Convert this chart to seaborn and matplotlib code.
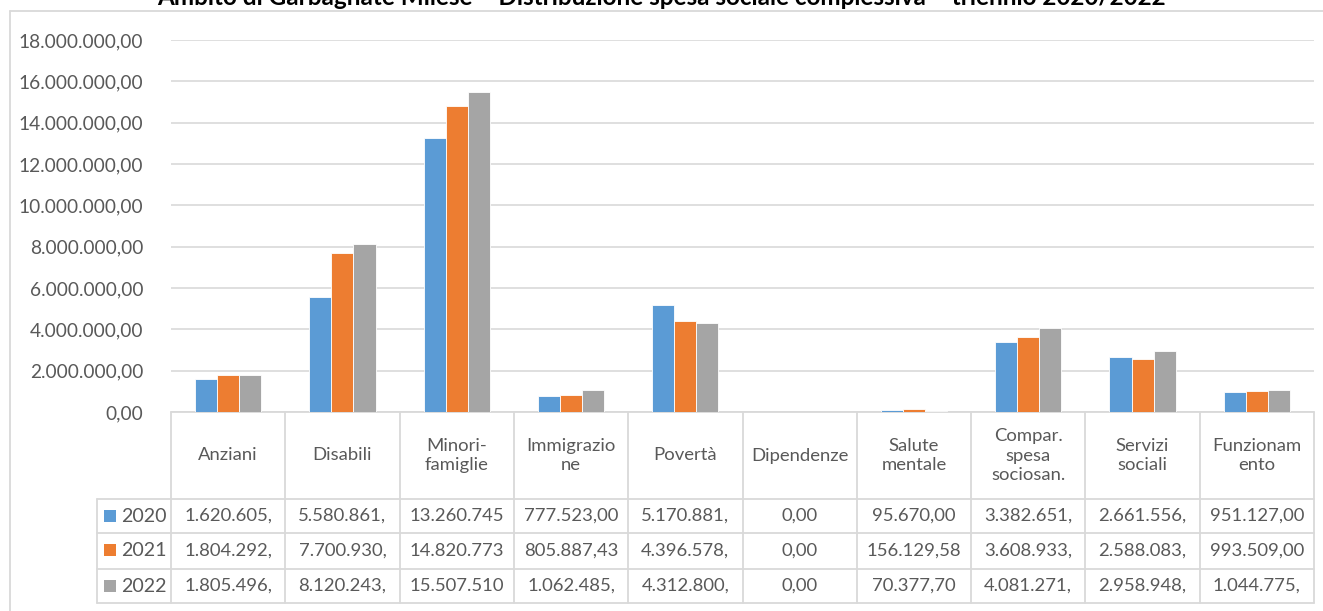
"""
Spesa sociale complessiva per area - bar chart with Excel-style data table
"""

import numpy as np
import pandas as pd
import matplotlib
matplotlib.use("Agg")
import matplotlib.pyplot as plt
import matplotlib.transforms as mtransforms
from matplotlib.patches import Rectangle
from matplotlib.lines import Line2D
from matplotlib.ticker import FuncFormatter
import seaborn as sns

# --- data -------------------------------------------------------------
categories = ['Anziani', 'Disabili', 'Minori-famiglie', 'Immigrazione', 'Povertà',
              'Dipendenze', 'Salute mentale', 'Compar. spesa sociosan.',
              'Servizi sociali', 'Funzionamento']
header_labels = ['Anziani', 'Disabili', 'Minori-\nfamiglie', 'Immigrazio\nne', 'Povertà',
                 'Dipendenze', 'Salute\nmentale', 'Compar.\nspesa\nsociosan.',
                 'Servizi\nsociali', 'Funzionam\nento']
years = ['2020', '2021', '2022']
spesa_2020 = [1620605.00, 5580861.00, 13260745.00, 777523.00, 5170881.00,
              0.00, 95670.00, 3382651.00, 2661556.00, 951127.00]
spesa_2021 = [1804292.00, 7700930.00, 14820773.00, 805887.43, 4396578.00,
              0.00, 156129.58, 3608933.00, 2588083.00, 993509.00]
spesa_2022 = [1805496.00, 8120243.00, 15507510.00, 1062485.00, 4312800.00,
              0.00, 70377.70, 4081271.00, 2958948.00, 1044775.00]
yticks = [0, 2e6, 4e6, 6e6, 8e6, 10e6, 12e6, 14e6, 16e6, 18e6]
colors = ['#5B9BD5', '#ED7D31', '#A5A5A5']

title = 'Ambito di Garbagnate Milese \u2013 Distribuzione spesa sociale complessiva \u2013 triennio 2020/2022'

series = [spesa_2020, spesa_2021, spesa_2022]
df = pd.DataFrame({
    'categoria': np.tile(categories, len(years)),
    'anno': np.repeat(years, len(categories)),
    'spesa': np.concatenate(series),
})


def it_fmt(v):
    s = f"{v:,.2f}"
    return s.replace(',', 'X').replace('.', ',').replace('X', '.')


# --- style --------------------------------------------------------------
sns.set_theme(style='white')
plt.rcParams['font.family'] = ['Lato', 'DejaVu Sans']
TXT = '#595959'
GRID = '#D9D9D9'
FS = 13.8
FS_CELL = 13.3

W, H = 1323, 611
fig = plt.figure(figsize=(W / 100, H / 100), dpi=100)
left_px, right_px, top_px, bottom_px = 171, 1314, 40, 412
ax = fig.add_axes([left_px / W, 1 - bottom_px / H,
                   (right_px - left_px) / W, (bottom_px - top_px) / H])

sns.barplot(data=df, x='categoria', y='spesa', hue='anno', palette=colors,
            saturation=1, width=0.58, edgecolor='white', linewidth=0.6, ax=ax,
            legend=False, zorder=3)

ax.set_xlim(-0.5, len(categories) - 0.5)
ax.set_ylim(0, 18e6)
ax.set_yticks(yticks)
ax.yaxis.set_major_formatter(FuncFormatter(lambda v, p: it_fmt(v)))
ax.tick_params(axis='y', length=0, pad=20, labelsize=FS, labelcolor=TXT)
ax.set_xticks([])
ax.set_xlabel('')
ax.set_ylabel('')
for s in ax.spines.values():
    s.set_visible(False)
ax.grid(axis='y', color=GRID, linewidth=1.2, zorder=0)
ax.set_axisbelow(True)

# --- data table below the axis (x in data coords, y in axes coords) -----
trans = mtransforms.blended_transform_factory(ax.transData, ax.transAxes)
plot_h = bottom_px - top_px


def ay(ypx):
    return (bottom_px - ypx) / plot_h


row_edges = [412, 499, 533, 569, 603]
legend_left = -0.5 - (left_px - 97) / ((right_px - left_px) / len(categories))
line_kw = dict(color=GRID, linewidth=1.3, transform=trans, clip_on=False, zorder=1)

# horizontal lines
ax.add_line(Line2D([-0.5, len(categories) - 0.5], [ay(row_edges[0])] * 2, **line_kw))
for yp in row_edges[1:]:
    ax.add_line(Line2D([legend_left, len(categories) - 0.5], [ay(yp)] * 2, **line_kw))
# vertical lines
for i in range(len(categories) + 1):
    ax.add_line(Line2D([i - 0.5, i - 0.5], [ay(row_edges[0]), ay(row_edges[-1])], **line_kw))
ax.add_line(Line2D([legend_left, legend_left], [ay(row_edges[1]), ay(row_edges[-1])], **line_kw))

# header text
for i, lab in enumerate(header_labels):
    ax.text(i, ay((row_edges[0] + row_edges[1]) / 2), lab, transform=trans,
            ha='center', va='center', fontsize=FS_CELL, color=TXT,
            linespacing=1.3, clip_on=False)

# rows
for r, (yr, vals, col) in enumerate(zip(years, series, colors)):
    yc = ay((row_edges[r + 1] + row_edges[r + 2]) / 2)
    for i, v in enumerate(vals):
        ax.text(i, yc, it_fmt(v)[:10], transform=trans, ha='center', va='center',
                fontsize=FS_CELL, color=TXT, clip_on=False)
    fig.patches.append(Rectangle((104 / W, 1 - (row_edges[r + 1] + 23) / H), 12 / W, 12 / H,
                                 transform=fig.transFigure, facecolor=col,
                                 edgecolor='none'))
    fig.text(121 / W, 1 - (row_edges[r + 1] + row_edges[r + 2]) / 2 / H, yr,
             ha='left', va='center', fontsize=FS + 0.3, color=TXT)

# chart frame (left and top edges visible)
fig.add_artist(Line2D([10 / W, 10 / W], [0, 1 - 11 / H], color=GRID, linewidth=1.3,
                      transform=fig.transFigure))
fig.add_artist(Line2D([10 / W, 1], [1 - 11 / H, 1 - 11 / H], color=GRID, linewidth=1.3,
                      transform=fig.transFigure))

# title, cut at the top edge as in the original
fig.text(0.5, 1 - 5 / H, title, ha='center', va='baseline', fontsize=17.5,
         fontweight='bold', color='black')

fig.savefig('out.png', dpi=100, facecolor='white')
